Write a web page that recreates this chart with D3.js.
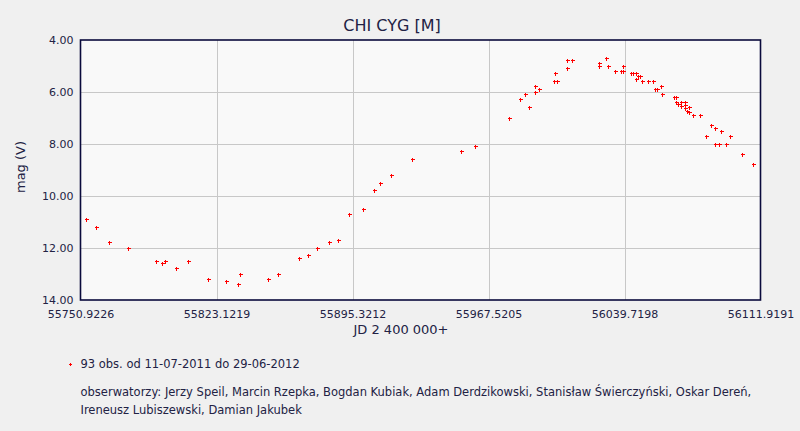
<!DOCTYPE html>
<html><head><meta charset="utf-8">
<script src="https://cdn.jsdelivr.net/npm/d3@7"></script>
<style>
html,body{margin:0;padding:0;background:#f0f0f0;}
svg{display:block;font-family:"DejaVu Sans",Verdana,sans-serif;}
</style></head>
<body><svg id="c" width="800" height="431"></svg>
<script>
const title = "CHI CYG [M]";
const xTicks = [55750.9226, 55823.1219, 55895.3212, 55967.5205, 56039.7198, 56111.9191];
const yTicks = [4, 6, 8, 10, 12, 14];
const jd = [55753.9,55759.2,55766.1,55776.2,55791.1,55794.2,55795.8,55801.7,55808.0,55818.7,
 55827.9,55834.6,55835.7,55850.5,55855.8,55867.0,55871.8,55876.5,55882.9,55887.7,
 55893.5,55901.0,55906.8,55910.0,55915.8,55927.0,55953.0,55960.4,55978.5,55984.3,
 55987.0,55989.1,55992.3,55992.3,55994.4,56002.3,56002.9,56003.9,56009.3,56009.3,
 56011.9,56026.2,56026.2,56030.0,56031.0,56034.7,56037.9,56039.0,56039.0,56043.2,
 56044.3,56045.9,56045.9,56046.9,56048.0,56049.1,56052.3,56054.9,56056.0,56057.0,
 56059.2,56059.7,56066.1,56067.1,56067.1,56068.2,56069.8,56069.8,56071.9,56071.9,
 56071.9,56073.0,56074.0,56074.0,56076.1,56079.9,56083.0,56085.7,56087.8,56087.8,
 56089.9,56091.0,56093.7,56095.8,56102.2,56108.0];
const mag = [10.88,11.19,11.77,12.0,12.5,12.58,12.5,12.77,12.5,13.19,
 13.27,13.38,13.0,13.19,13.0,12.38,12.27,12.0,11.77,11.69,
 10.69,10.5,9.77,9.5,9.19,8.58,8.27,8.08,7.0,6.27,
 6.08,6.58,5.77,6.0,5.88,5.58,5.27,5.58,4.77,5.08,
 4.77,4.88,5.0,4.69,5.0,5.19,5.19,5.19,5.0,5.27,
 5.27,5.27,5.5,5.38,5.38,5.58,5.58,5.58,5.88,5.88,
 5.77,6.08,6.19,6.19,6.38,6.46,6.38,6.54,6.38,6.5,
 6.62,6.73,6.58,6.77,6.88,6.88,7.69,7.27,7.38,8.0,
 8.0,7.5,8.0,7.69,8.38,8.77];
const legendText = "93 obs. od 11-07-2011 do 29-06-2012";
const observers1 = "obserwatorzy: Jerzy Speil, Marcin Rzepka, Bogdan Kubiak, Adam Derdzikowski, Stanisław Świerczyński, Oskar Dereń,";
const observers2 = "Ireneusz Lubiszewski, Damian Jakubek";

const svg = d3.select("#c");
const L = 80.5, R = 760.5, T = 40, B = 300;
const textCol = "#222244";
const x = d3.scaleLinear().domain([xTicks[0], xTicks[xTicks.length-1]]).range([L, R]);
const y = d3.scaleLinear().domain([4, 14]).range([T, B]);

svg.append("rect").attr("width",800).attr("height",431).attr("fill","#f0f0f0");
svg.append("rect").attr("x",L).attr("y",T).attr("width",R-L).attr("height",B-T).attr("fill","#f9f9f9");

// grid
const g = svg.append("g").attr("shape-rendering","crispEdges");
g.selectAll(".gx").data(xTicks.slice(1,-1)).join("line")
  .attr("x1",d=>Math.round(x(d))+0.5).attr("x2",d=>Math.round(x(d))+0.5)
  .attr("y1",T).attr("y2",B).attr("stroke","#c8c8c8").attr("stroke-width",1);
g.selectAll(".gy").data(yTicks.slice(1,-1)).join("line")
  .attr("y1",d=>Math.round(y(d))+0.5).attr("y2",d=>Math.round(y(d))+0.5)
  .attr("x1",L).attr("x2",R).attr("stroke","#c8c8c8").attr("stroke-width",1);

// axes via d3
const xAxis = d3.axisBottom(x).tickValues(xTicks).tickSize(0).tickPadding(10).tickFormat(d=>d.toFixed(4));
const yAxis = d3.axisLeft(y).tickValues(yTicks).tickSize(0).tickPadding(7).tickFormat(d=>d.toFixed(2));
const gx = svg.append("g").attr("transform",`translate(0,${B})`).call(xAxis);
const gy = svg.append("g").attr("transform",`translate(${L},0)`).call(yAxis);
[gx,gy].forEach(a=>{
  a.select(".domain").remove();
  a.selectAll("text").attr("fill",textCol).style("font-size","11px").style("font-family","DejaVu Sans");
});

// border
svg.append("rect").attr("x",L).attr("y",T).attr("width",R-L).attr("height",B-T)
  .attr("fill","none").attr("stroke","#0a0a3c").attr("stroke-width",1.6);

// points (small crisp plus markers)
const pts = svg.append("g").attr("shape-rendering","crispEdges").attr("fill","#ff0000");
const data = jd.map((d,i)=>[x(d), y(mag[i])]);
pts.selectAll("rect.h").data(data).join("rect").attr("class","h")
  .attr("x",d=>Math.round(d[0])-1.5).attr("y",d=>Math.round(d[1])-0.5).attr("width",4).attr("height",1.3);
pts.selectAll("rect.v").data(data).join("rect").attr("class","v")
  .attr("x",d=>Math.round(d[0])-0.5).attr("y",d=>Math.round(d[1])-1.5).attr("width",1.3).attr("height",4);

// title & labels
svg.append("text").attr("x",392).attr("y",31).attr("text-anchor","middle")
  .attr("fill",textCol).style("font-size","16px").text(title);
svg.append("text").attr("x",401).attr("y",334).attr("text-anchor","middle")
  .attr("fill",textCol).style("font-size","13px").text("JD 2 400 000+");
svg.append("text").attr("transform","translate(25,167) rotate(-90)").attr("text-anchor","middle")
  .attr("fill",textCol).style("font-size","13px").text("mag (V)");

// legend
const lg = svg.append("g").attr("shape-rendering","crispEdges").attr("fill","#ff0000");
lg.append("rect").attr("x",68.5).attr("y",363.5).attr("width",3).attr("height",1);
lg.append("rect").attr("x",69.5).attr("y",362.5).attr("width",1).attr("height",3);
svg.append("text").attr("x",80.5).attr("y",368).attr("fill",textCol).style("font-size","11.5px").text(legendText);
const o1 = svg.append("text").attr("x",80.5).attr("y",395.5).attr("fill",textCol).style("font-size","11.5px").text(observers1);
const o2 = svg.append("text").attr("x",80.5).attr("y",414).attr("fill",textCol).style("font-size","11.5px").text(observers2);
const w = o1.node().getComputedTextLength();
if (w > 678) { o1.attr("textLength",678).attr("lengthAdjust","spacingAndGlyphs"); }
</script></body></html>
